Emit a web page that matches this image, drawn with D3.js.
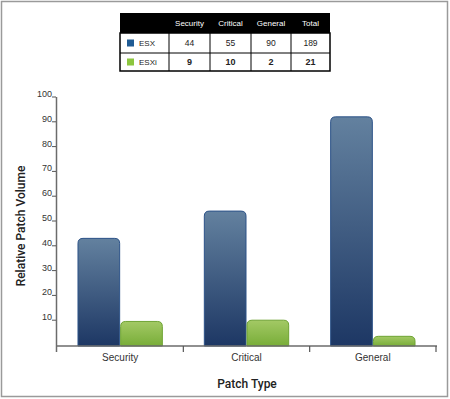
<!DOCTYPE html>
<html>
<head>
<meta charset="utf-8">
<script src="https://cdn.jsdelivr.net/npm/d3@7"></script>
<style>
  body { margin: 0; background: #fff; }
  text { font-family: "Liberation Sans", Arial, sans-serif; }
  text.title { font-family: Roboto, "Liberation Sans", sans-serif; }
</style>
</head>
<body>
<script>
// chart data
var categories = ["Security", "Critical", "General"];
var seriesNames = ["ESX", "ESXi"];
var esxValues = [43, 54, 92];
var esxiValues = [9.5, 10, 3.5];
var yTicks = [10, 20, 30, 40, 50, 60, 70, 80, 90, 100];
// table data
var tableColumns = ["Security", "Critical", "General", "Total"];
var esxRow = ["44", "55", "90", "189"];
var esxiRow = ["9", "10", "2", "21"];

var width = 450, height = 399;
var svg = d3.select("body").append("svg").attr("width", width).attr("height", height);

var defs = svg.append("defs");
var gBlue = defs.append("linearGradient").attr("id", "gBlue").attr("x1", 0).attr("x2", 0).attr("y1", 0).attr("y2", 1);
gBlue.append("stop").attr("offset", "0%").attr("stop-color", "#63819f");
gBlue.append("stop").attr("offset", "100%").attr("stop-color", "#1d3764");
var gGreen = defs.append("linearGradient").attr("id", "gGreen").attr("x1", 0).attr("x2", 0).attr("y1", 0).attr("y2", 1);
gGreen.append("stop").attr("offset", "0%").attr("stop-color", "#a3c965");
gGreen.append("stop").attr("offset", "100%").attr("stop-color", "#78ad38");

// outer frame
svg.append("rect").attr("x", 1.5).attr("y", 1.5).attr("width", 446).attr("height", 395)
    .attr("fill", "none").attr("stroke", "#9a9a9a").attr("stroke-width", 1.5);

var x0 = d3.scaleBand().domain(categories).range([57, 436]).padding(0);
var x1 = d3.scaleBand().domain(seriesNames).range([0, x0.bandwidth()]).paddingInner(0).paddingOuter(0.48);
var y = d3.scaleLinear().domain([0, 100]).range([345, 97]);

// rounded-top bar path
function barPath(x, yTop, w, yBase, r) {
    r = Math.min(r, (yBase - yTop));
    return "M" + x + "," + yBase + "V" + (yTop + r) +
        "Q" + x + "," + yTop + " " + (x + r) + "," + yTop +
        "H" + (x + w - r) + "Q" + (x + w) + "," + yTop + " " + (x + w) + "," + (yTop + r) +
        "V" + yBase + "Z";
}

var bars = [];
categories.forEach(function (c, i) {
    bars.push({ cat: c, s: "ESX", v: esxValues[i] });
    bars.push({ cat: c, s: "ESXi", v: esxiValues[i] });
});

svg.selectAll("path.bar").data(bars).enter().append("path")
    .attr("class", "bar")
    .attr("d", function (d) {
        return barPath(x0(d.cat) + x1(d.s) + 0.5, y(d.v), x1.bandwidth() - 1, 346, 5);
    })
    .attr("fill", function (d) { return d.s == "ESX" ? "url(#gBlue)" : "url(#gGreen)"; })
    .attr("stroke", function (d) { return d.s == "ESX" ? "#2c5288" : "#6ea333"; })
    .attr("stroke-width", 1);

// y axis
svg.append("line").attr("x1", 56.5).attr("x2", 56.5).attr("y1", 97).attr("y2", 352)
    .attr("stroke", "#6b6b6b").attr("stroke-width", 1.5);
var yt = svg.selectAll("g.ytick").data(yTicks).enter().append("g").attr("class", "ytick");
yt.append("line").attr("x1", 52).attr("x2", 56).attr("y1", function (d) { return y(d); }).attr("y2", function (d) { return y(d); })
    .attr("stroke", "#555").attr("stroke-width", 1);
yt.append("text").attr("x", 52).attr("y", function (d) { return y(d); })
    .attr("text-anchor", "end").attr("font-size", 9).attr("fill", "#333")
    .text(function (d) { return d; });

// x axis
svg.append("line").attr("x1", 56).attr("x2", 437).attr("y1", 346).attr("y2", 346)
    .attr("stroke", "#6b6b6b").attr("stroke-width", 1.5);
var xb = categories.map(function (c) { return x0(c); }).concat([x0.range()[1]]);
svg.selectAll("line.xtick").data(xb.slice(1)).enter().append("line").attr("class", "xtick")
    .attr("x1", function (d) { return d; }).attr("x2", function (d) { return d; })
    .attr("y1", 346).attr("y2", 352).attr("stroke", "#555").attr("stroke-width", 1.2);
svg.selectAll("text.xlab").data(categories).enter().append("text").attr("class", "xlab")
    .attr("x", function (d) { return x0(d) + x0.bandwidth() / 2; }).attr("y", 361)
    .attr("text-anchor", "middle").attr("font-size", 10).attr("fill", "#333")
    .text(function (d) { return d; });

// axis titles
svg.append("text").attr("class", "title").attr("x", 247).attr("y", 388).attr("text-anchor", "middle")
    .attr("font-size", 12).attr("font-weight", 500).attr("fill", "#222").text("Patch Type");
svg.append("text").attr("class", "title").attr("transform", "translate(25,226) rotate(-90)").attr("text-anchor", "middle")
    .attr("font-size", 12).attr("font-weight", 500).attr("fill", "#222").text("Relative Patch Volume");

// data table
var tx = [120, 169, 210, 251, 291, 330];
var ty = [13, 33, 53, 71];
var tbl = svg.append("g");
tbl.append("rect").attr("x", tx[0]).attr("y", ty[0]).attr("width", tx[5] - tx[0]).attr("height", ty[1] - ty[0]).attr("fill", "#000");
tbl.append("rect").attr("x", tx[0]).attr("y", ty[1]).attr("width", tx[5] - tx[0]).attr("height", ty[3] - ty[1])
    .attr("fill", "#fff").attr("stroke", "#000").attr("stroke-width", 1.5);
tbl.append("line").attr("x1", tx[0]).attr("x2", tx[5]).attr("y1", ty[2]).attr("y2", ty[2]).attr("stroke", "#000").attr("stroke-width", 1);
tbl.selectAll("line.vcol").data(tx.slice(1, 5)).enter().append("line").attr("class", "vcol")
    .attr("x1", function (d) { return d; }).attr("x2", function (d) { return d; })
    .attr("y1", ty[1]).attr("y2", ty[3]).attr("stroke", "#000").attr("stroke-width", 1);
tbl.selectAll("text.th").data(tableColumns).enter().append("text").attr("class", "th")
    .attr("x", function (d, i) { return (tx[i + 1] + tx[i + 2]) / 2; }).attr("y", 26)
    .attr("text-anchor", "middle").attr("font-size", 8).attr("fill", "#fff").text(function (d) { return d; });

var rows = [
    { name: "ESX", color: "#1f5b94", vals: esxRow, bold: false },
    { name: "ESXi", color: "#8cc63f", vals: esxiRow, bold: true }
];
rows.forEach(function (r, ri) {
    var mid = (ty[ri + 1] + ty[ri + 2]) / 2;
    tbl.append("rect").attr("x", 127).attr("y", mid - 3.5).attr("width", 7).attr("height", 7).attr("fill", r.color);
    tbl.append("text").attr("x", 139).attr("y", mid + 3).attr("font-size", 8).attr("fill", "#222").text(r.name);
    tbl.selectAll("text.r" + ri).data(r.vals).enter().append("text").attr("class", "r" + ri)
        .attr("x", function (d, i) { return (tx[i + 1] + tx[i + 2]) / 2; }).attr("y", mid + 3)
        .attr("text-anchor", "middle").attr("font-size", r.bold ? 9 : 8.5)
        .attr("font-weight", r.bold ? 700 : 400).attr("fill", "#222")
        .text(function (d) { return d; });
});
</script>
</body>
</html>
